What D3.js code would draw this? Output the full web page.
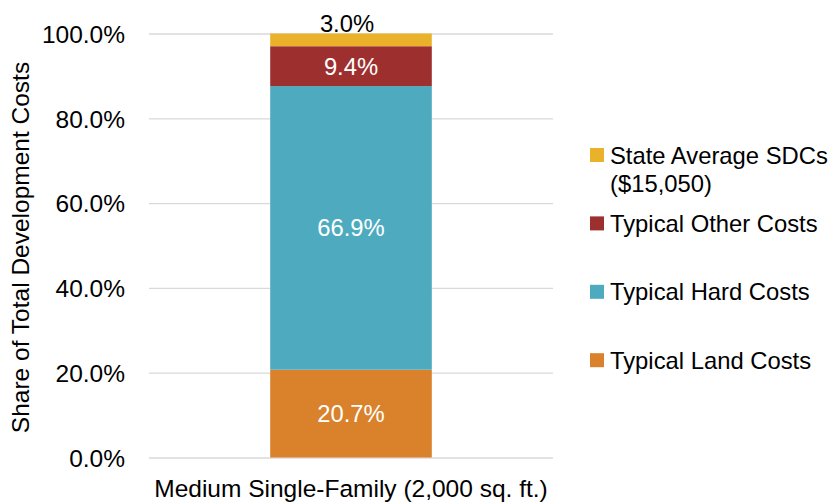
<!DOCTYPE html>
<html>
<head>
<meta charset="utf-8">
<script src="https://cdn.jsdelivr.net/npm/d3@7"></script>
<style>
  html, body { margin: 0; padding: 0; background: #fff; }
  svg { display: block; font-family: "Liberation Sans", Arial, sans-serif; }
</style>
</head>
<body>
<svg id="chart" width="829" height="502"></svg>
<script>
// --- data ---
var categories = ["Medium Single-Family (2,000 sq. ft.)"];
var seriesNames = ["Typical Land Costs", "Typical Hard Costs", "Typical Other Costs", "State Average SDCs\n($15,050)"];
var seriesValues = [20.7, 66.9, 9.4, 3.0];
var seriesColors = ["#D9822B", "#4EABBF", "#9E2F2F", "#EAB22B"];
var labelColors = ["#fff", "#fff", "#fff", "#000"];
var yTicks = [0, 20, 40, 60, 80, 100];

// --- layout ---
var W = 829, H = 502;
var plot = { left: 149, right: 553, top: 33.5, bottom: 457.5 };
var fontSize = 24.5;     // axis text
var legendFont = 23.8;   // legend + data labels

var svg = d3.select("#chart");

var x = d3.scaleBand()
	.domain(categories)
	.range([plot.left, plot.right])
	.paddingInner(0.6)
	.paddingOuter(0.3);

var y = d3.scaleLinear()
	.domain([0, 100])
	.range([plot.bottom, plot.top]);

// gridlines + tick labels
var yAxis = svg.append("g")
	.attr("transform", "translate(" + plot.left + ",0)")
	.call(d3.axisLeft(y)
		.tickValues(yTicks)
		.tickSize(-(plot.right - plot.left))
		.tickPadding(24)
		.tickFormat(function(d) { return d.toFixed(1) + "%"; }));

yAxis.select(".domain").remove();
yAxis.selectAll(".tick line")
	.attr("stroke", "#D9D9D9")
	.attr("stroke-width", 1.3);
yAxis.selectAll(".tick text")
	.attr("fill", "#000")
	.attr("dy", "0.36em")
	.style("font-size", fontSize + "px")
	.style("font-family", "Liberation Sans, Arial, sans-serif");

// stacked segments
var stackRows = categories.map(function(c) {
	var row = { category: c };
	seriesNames.forEach(function(s, j) { row[s] = seriesValues[j]; });
	return row;
});
var stacked = d3.stack().keys(seriesNames)(stackRows);

var layers = svg.append("g").selectAll("g.layer")
	.data(stacked)
	.enter()
	.append("g")
	.attr("class", "layer")
	.attr("fill", function(d, i) { return seriesColors[i]; });

layers.selectAll("rect")
	.data(function(d) { return d; })
	.enter()
	.append("rect")
	.attr("x", function(d) { return x(d.data.category); })
	.attr("width", x.bandwidth())
	.attr("y", function(d) { return y(d[1]); })
	.attr("height", function(d) { return y(d[0]) - y(d[1]); });

// data labels
stacked.forEach(function(layer, i) {
	layer.forEach(function(d) {
		var cx = x(d.data.category) + x.bandwidth() / 2;
		var last = (i === stacked.length - 1);
		var t = svg.append("text")
			.attr("x", last ? cx - 4 : cx)
			.attr("text-anchor", "middle")
			.attr("fill", labelColors[i])
			.style("font-size", legendFont + "px")
			.text(seriesValues[i].toFixed(1) + "%");
		if (last) {
			// small top segment: label sits above the bar
			t.attr("y", y(d[1]) - 1.5);
		} else {
			t.attr("y", (y(d[0]) + y(d[1])) / 2).attr("dy", "0.36em");
		}
	});
});

// x-axis category label
svg.selectAll(".xlabel")
	.data(categories)
	.enter()
	.append("text")
	.attr("class", "xlabel")
	.attr("x", function(d) { return x(d) + x.bandwidth() / 2; })
	.attr("y", 497)
	.attr("text-anchor", "middle")
	.attr("fill", "#000")
	.style("font-size", fontSize + "px")
	.text(function(d) { return d; });

// y-axis title
svg.append("text")
	.attr("transform", "translate(29," + ((plot.top + plot.bottom) / 2 + 2) + ") rotate(-90)")
	.attr("text-anchor", "middle")
	.attr("fill", "#000")
	.style("font-size", fontSize + "px")
	.text("Share of Total Development Costs");

// legend (reverse stack order, top to bottom)
var legendTop = 155, legendStep = 68.4, lineH = 28;
var legendItems = seriesNames.map(function(n, i) { return { name: n, color: seriesColors[i] }; }).reverse();

var legend = svg.append("g").attr("class", "legend");
var item = legend.selectAll("g")
	.data(legendItems)
	.enter()
	.append("g")
	.attr("transform", function(d, i) { return "translate(590," + (legendTop + i * legendStep) + ")"; });

item.append("rect")
	.attr("x", 0)
	.attr("y", -7)
	.attr("width", 14)
	.attr("height", 14)
	.attr("fill", function(d) { return d.color; });

item.append("text")
	.attr("fill", "#000")
	.style("font-size", legendFont + "px")
	.selectAll("tspan")
	.data(function(d) { return d.name.split("\n"); })
	.enter()
	.append("tspan")
	.attr("x", 20)
	.attr("y", function(d, i) { return i * lineH; })
	.attr("dy", "0.36em")
	.text(function(d) { return d; });
</script>
</body>
</html>
